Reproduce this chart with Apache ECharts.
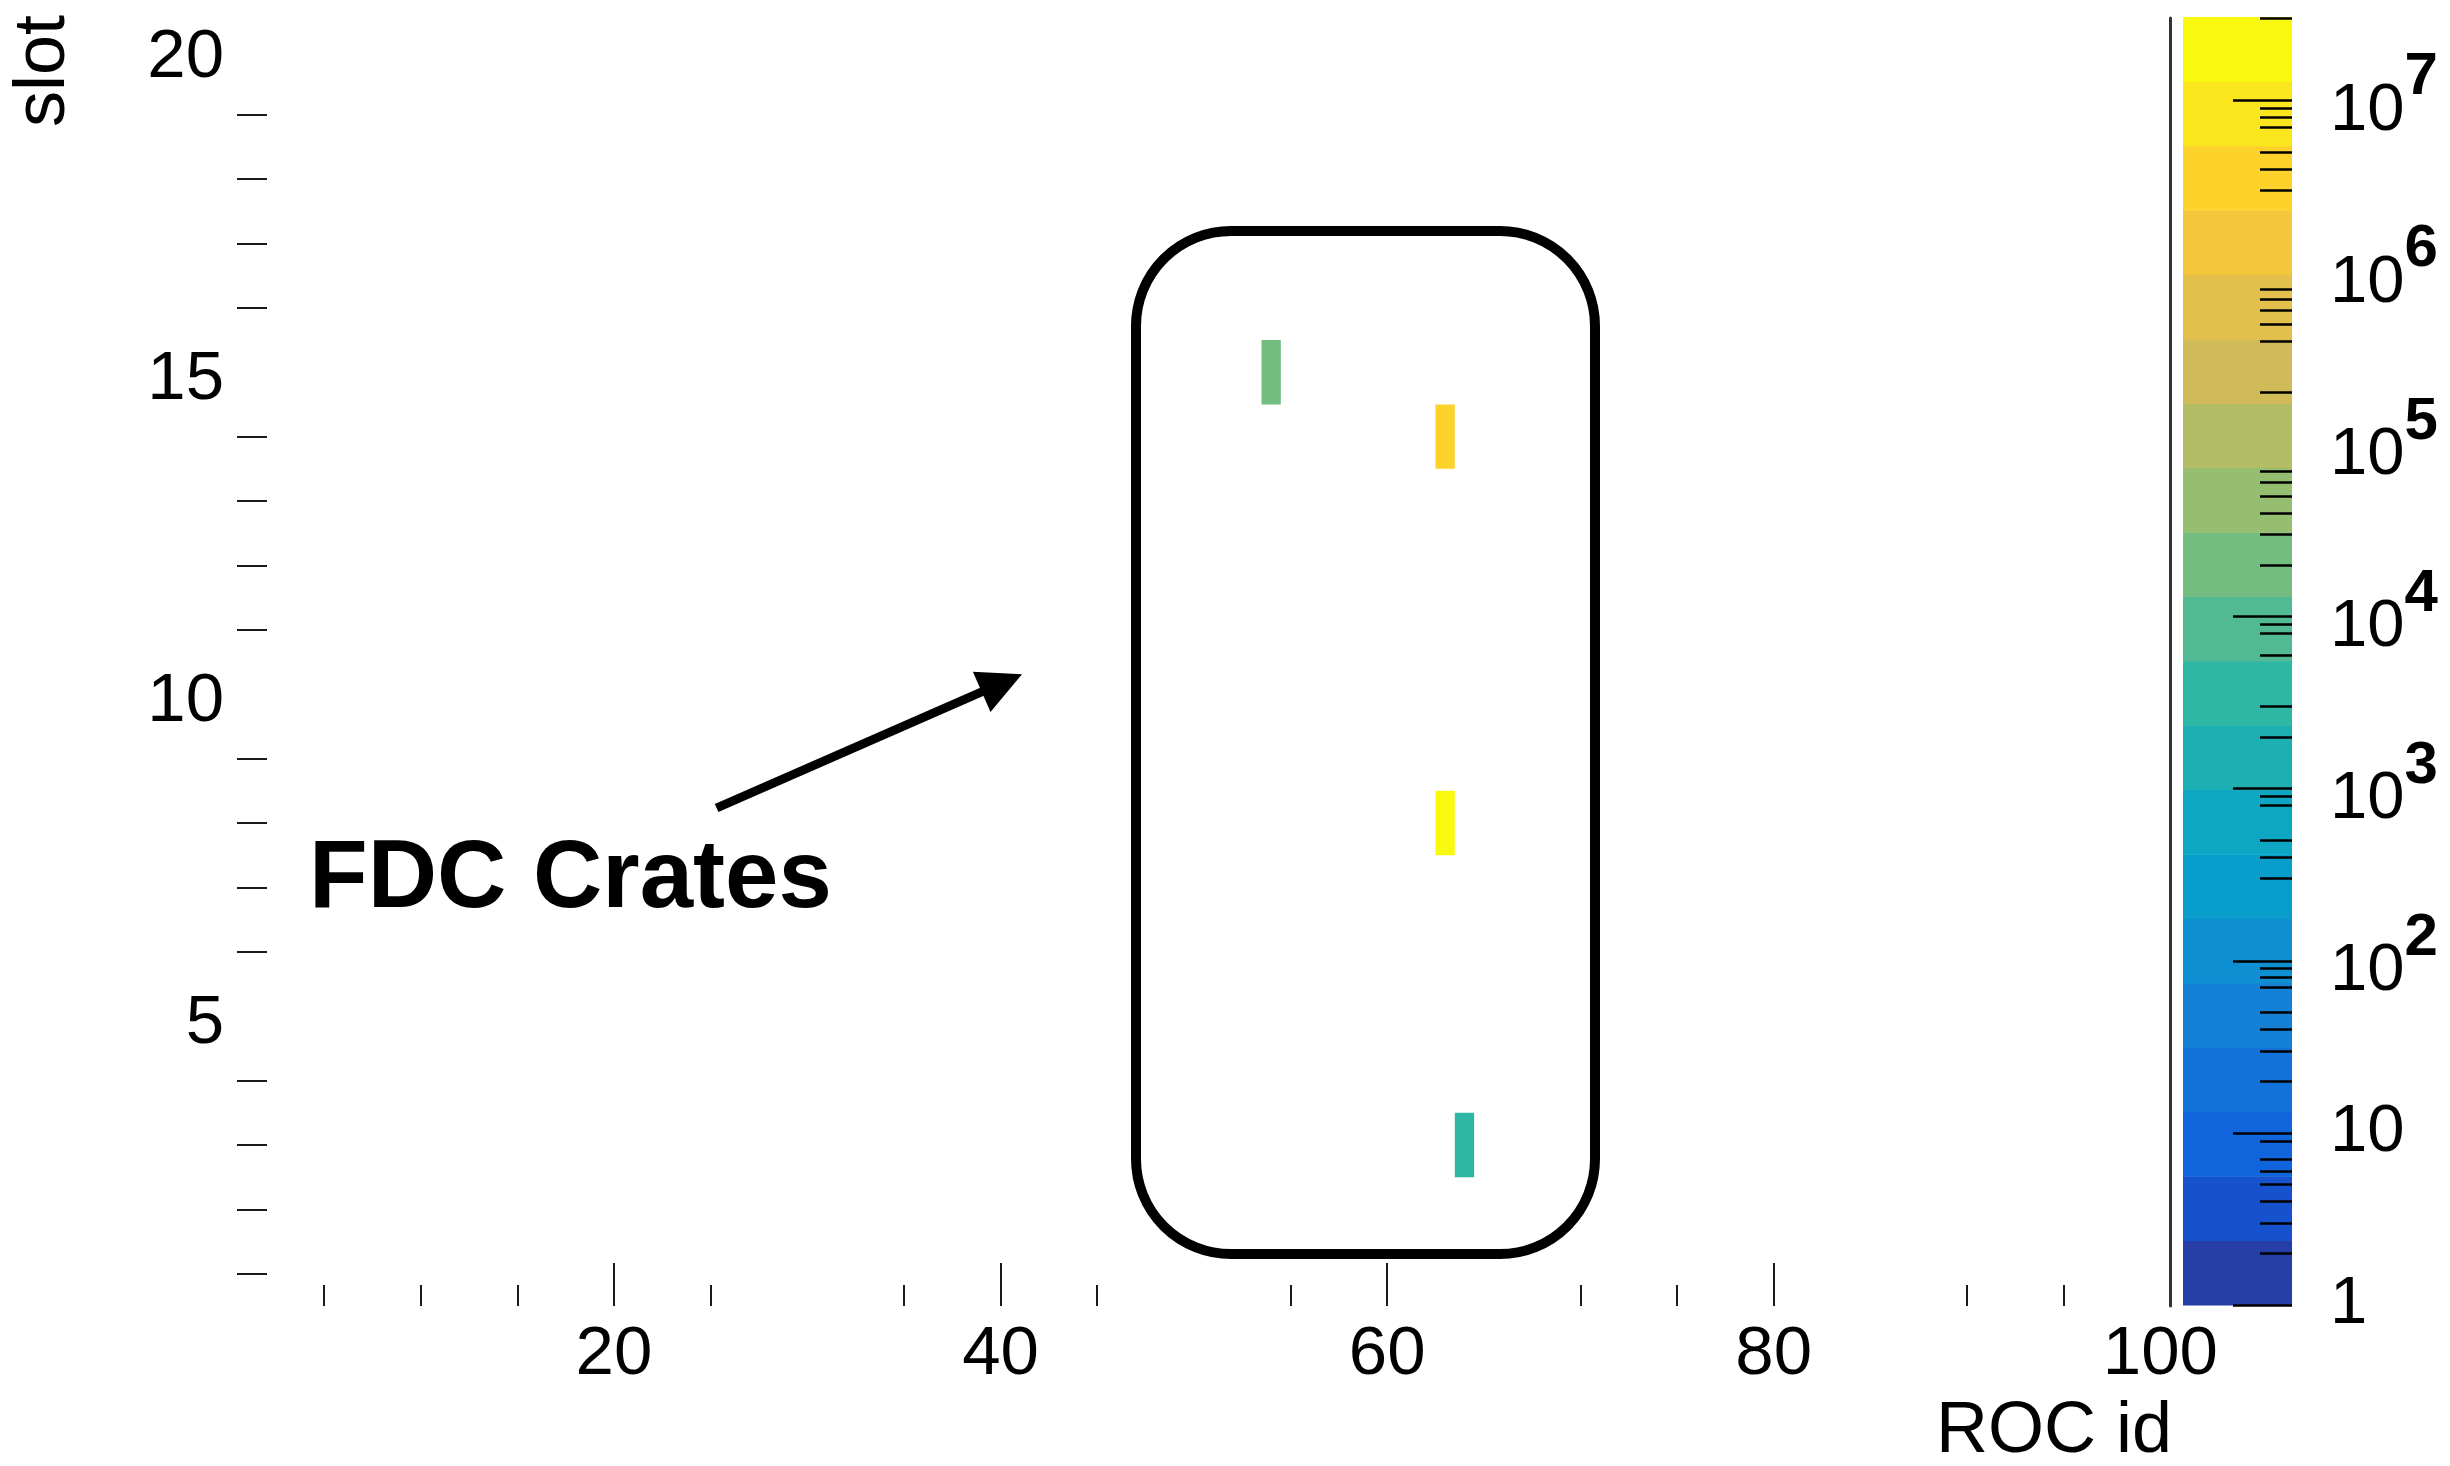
<!DOCTYPE html>
<html><head><meta charset="utf-8">
<script src="https://cdn.jsdelivr.net/npm/echarts@6/dist/echarts.min.js"></script>
<style>html,body{margin:0;padding:0;background:#fff}#c{width:2450px;height:1466px}</style>
</head><body><div id="c"></div>
<script>
// ---- data ----
const rocIds = [54, 63, 63, 64];
const slots = [15, 14, 8, 3];
const counts = [2.0e4, 3.5e6, 3.05e7, 3.5e3];
// ---- axis ticks / labels (as visible in the reference) ----
const xRange = [0.5, 100.5];
const yRange = [0.5, 20.5];
const xLabelValues = [20, 40, 60, 80, 100];
const xMajorTicks = [20, 40, 60, 80];
const xMinorTicks = [5, 10, 15, 25, 35, 45, 55, 70, 75, 90, 95];
const yLabelValues = [5, 10, 15, 20];
const yMinorTicks = [1, 2, 3, 4, 6, 7, 8, 9, 11, 12, 13, 14, 16, 17, 18, 19];
const zLabelValues = [1, 10, 1e2, 1e3, 1e4, 1e5, 1e6, 1e7];
const zMajorTicks = [1, 10, 1e2, 1e3, 1e4, 1e7];
const zMinorTicks = [2, 3, 4, 5, 6, 7, 9, 20, 30, 40, 50, 70, 80, 90, 300, 400, 500, 800, 900,
  2e3, 3e3, 6e3, 8e3, 9e3, 2e4, 3e4, 4e4, 5e4, 6e4, 7e4, 2e5, 4e5, 5e5, 6e5, 7e5, 8e5,
  3e6, 4e6, 5e6, 7e6, 8e6, 9e6, 3e7];
const zMin = 1;
const nContours = 20;

// ---- ROOT kBird palette ----
const birdStops = [0.0, 0.125, 0.25, 0.375, 0.5, 0.625, 0.75, 0.875, 1.0];
const birdR = [0.2082, 0.0592, 0.0780, 0.0232, 0.1802, 0.5301, 0.8186, 0.9956, 0.9764];
const birdG = [0.1664, 0.3599, 0.5041, 0.6419, 0.7178, 0.7492, 0.7328, 0.7862, 0.9832];
const birdB = [0.5293, 0.8684, 0.8385, 0.7914, 0.6425, 0.4662, 0.3499, 0.1968, 0.0539];
function gradientTable(n) {
  const out = [];
  for (let s = 1; s < birdStops.length; s++) {
    const ng = Math.floor(birdStops[s] * n) - Math.floor(birdStops[s - 1] * n);
    for (let k = 0; k < ng; k++) {
      const f = k / ng;
      out.push([birdR[s-1] + (birdR[s]-birdR[s-1]) * f, birdG[s-1] + (birdG[s]-birdG[s-1]) * f, birdB[s-1] + (birdB[s]-birdB[s-1]) * f]);
    }
  }
  return out;
}
const table = gradientTable(255);
const palette = [];
for (let c = 0; c < nContours; c++) {
  const j = Math.min(table.length - 1, Math.floor((c + 0.99) * 255 / nContours));
  const t = table[j];
  palette.push('rgb(' + t.map(v => Math.round(v * 255)).join(',') + ')');
}

const logMin = Math.log10(zMin);
const logMax = Math.log10(Math.max(...counts));
const step = (logMax - logMin) / nContours;
const bands = palette.map((col, c) => [logMin + c * step, logMin + (c + 1) * step, c]);
const lg = a => a.map(v => Math.log10(v));

const cells = rocIds.map((r, i) => [r, slots[i], counts[i], Math.log10(counts[i])]);

const FONT = 'Liberation Sans, Arial, Helvetica, sans-serif';
const TICK = '#1a1a1a';

const chart = echarts.init(document.getElementById('c'), null, {renderer: 'canvas'});
const gMain = {left: 237, top: 18, width: 1933, height: 1288, outerBoundsMode: 'none', containLabel: false};
const gBar = {left: 2183, top: 17, width: 109, height: 1288, outerBoundsMode: 'none', containLabel: false};

const hidden = {show: false};
const noLine = {show: false, onZero: false};
const option = {
  backgroundColor: '#ffffff',
  animation: false,
  grid: [gMain, Object.assign({}, gMain), gBar, Object.assign({}, gBar)],
  xAxis: [
    {gridIndex: 0, type: 'value', min: xRange[0], max: xRange[1], position: 'bottom',
     axisLine: noLine, splitLine: hidden,
     axisTick: {show: true, inside: true, length: 43, customValues: xMajorTicks, lineStyle: {color: TICK, width: 2}},
     axisLabel: {show: true, customValues: xLabelValues, margin: 14, fontSize: 69, fontFamily: FONT, color: '#000'},
     name: 'ROC id', nameLocation: 'end', nameGap: 2, nameMoveOverlap: false,
     nameTextStyle: {fontSize: 72, fontFamily: FONT, color: '#000', align: 'right', verticalAlign: 'top', padding: [90, 0, 0, 0]}},
    {gridIndex: 1, type: 'value', min: xRange[0], max: xRange[1], position: 'bottom',
     axisLine: noLine, splitLine: hidden, axisLabel: hidden,
     axisTick: {show: true, inside: true, length: 21, customValues: xMinorTicks, lineStyle: {color: TICK, width: 2}}},
    {gridIndex: 2, type: 'value', min: 0, max: 1, show: false, axisLine: noLine},
    {gridIndex: 3, type: 'value', min: 0, max: 1, show: false, axisLine: noLine}
  ],
  yAxis: [
    {gridIndex: 0, type: 'value', min: yRange[0], max: yRange[1], position: 'left',
     axisLine: noLine, splitLine: hidden,
     axisTick: {show: true, inside: true, length: 30, customValues: yMinorTicks, lineStyle: {color: TICK, width: 2}},
     axisLabel: {show: true, customValues: yLabelValues, margin: 13, fontSize: 69, fontFamily: FONT, color: '#000',
       formatter: v => '{a|' + v + '}',
       rich: {a: {fontSize: 69, fontFamily: FONT, color: '#000', padding: [16, 0, 0, 0]}}}},
    {gridIndex: 1, type: 'value', min: yRange[0], max: yRange[1], position: 'right',
     axisLine: {show: true, onZero: false, lineStyle: {color: '#333', width: 3}}, axisTick: hidden, axisLabel: hidden, splitLine: hidden},
    {gridIndex: 2, type: 'value', min: logMin, max: logMax, position: 'right', z: 20,
     axisLine: noLine, splitLine: hidden,
     axisTick: {show: true, inside: true, length: 59, customValues: lg(zMajorTicks), lineStyle: {color: '#000', width: 2.5}},
     axisLabel: {show: true, customValues: lg(zLabelValues), margin: 38, fontSize: 67, fontFamily: FONT, color: '#000',
       formatter: v => { const e = Math.round(v); return e === 0 ? '1' : (e === 1 ? '10' : '{b|10}{s|' + e + '}'); },
       rich: {b: {fontSize: 67, fontFamily: FONT, color: '#000', verticalAlign: 'bottom', padding: [0, 0, 8, 0]},
              s: {fontSize: 60, fontWeight: 'bold', fontFamily: FONT, color: '#000', verticalAlign: 'bottom', padding: [0, 0, 45, 0]}}}},
    {gridIndex: 3, type: 'value', min: logMin, max: logMax, position: 'right', z: 20,
     axisLine: noLine, splitLine: hidden, axisLabel: hidden,
     axisTick: {show: true, inside: true, length: 32, customValues: lg(zMinorTicks), lineStyle: {color: '#000', width: 2.5}}}
  ],
  visualMap: {
    type: 'piecewise', show: false, seriesIndex: 0, dimension: 3,
    pieces: bands.map((b, c) => c === nContours - 1 ? {gte: b[0], lte: b[1] + 1e-9, color: palette[c]} : {gte: b[0], lt: b[1], color: palette[c]})
  },
  series: [
    {type: 'custom', xAxisIndex: 0, yAxisIndex: 0, data: cells, encode: {x: 0, y: 1},
     renderItem: (params, api) => {
       const p0 = api.coord([api.value(0) - 0.5, api.value(1) + 0.5]);
       const p1 = api.coord([api.value(0) + 0.5, api.value(1) - 0.5]);
       return {type: 'rect', shape: {x: p0[0], y: p0[1], width: p1[0] - p0[0], height: p1[1] - p0[1]}, style: {fill: api.visual('color')}};
     }},
    {type: 'custom', xAxisIndex: 2, yAxisIndex: 2, data: bands, silent: true, z: 1,
     renderItem: (params, api) => {
       const p0 = api.coord([0, api.value(1)]);
       const p1 = api.coord([1, api.value(0)]);
       return {type: 'rect', shape: {x: p0[0], y: p0[1], width: p1[0] - p0[0], height: p1[1] - p0[1] + 0.5}, style: {fill: palette[api.value(2)]}};
     }}
  ],
  graphic: {elements: [
    {type: 'text', x: 44, y: 15, rotation: Math.PI / 2,
     style: {text: 'slot', font: '72px ' + FONT, fill: '#000', align: 'right', verticalAlign: 'middle'}},
    {type: 'rect', shape: {x: 1136, y: 231, width: 459, height: 1023, r: 95}, style: {fill: null, stroke: '#000', lineWidth: 10}, z: 10},
    {type: 'line', shape: {x1: 716.6, y1: 808, x2: 986, y2: 690}, style: {stroke: '#000', lineWidth: 9}, z: 10},
    {type: 'polygon', shape: {points: [[1022, 674.3], [972.9, 671.8], [990.5, 712.0]]}, style: {fill: '#000'}, z: 10},
    {type: 'text', x: 309, y: 881, style: {text: 'FDC Crates', font: 'bold 96px ' + FONT, fill: '#000', verticalAlign: 'middle', align: 'left'}, z: 10}
  ]}
};
chart.setOption(option);
</script>
</body></html>
